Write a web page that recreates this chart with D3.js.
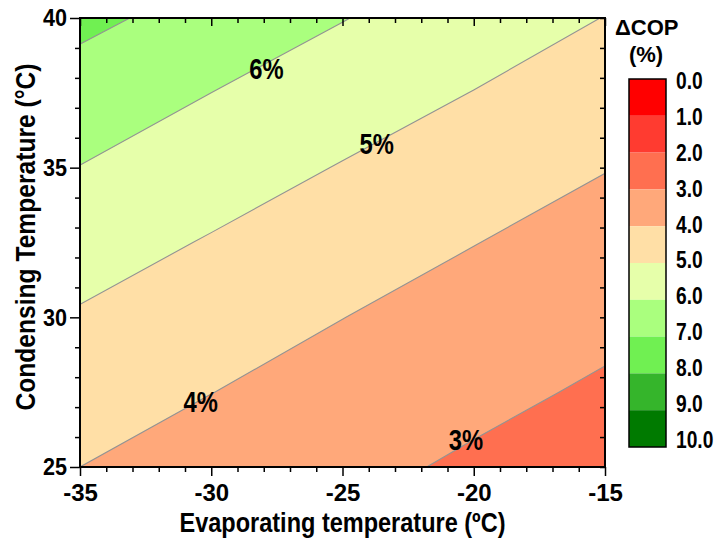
<!DOCTYPE html>
<html>
<head>
<meta charset="utf-8">
<script src="https://cdn.jsdelivr.net/npm/d3@7"></script>
<style>
  body { margin: 0; background: #fff; }
  text { font-family: "Liberation Sans", Arial, sans-serif; font-weight: bold; fill: #000; }
</style>
</head>
<body>
<script>
// evaporating temperature columns and condensing temperature rows (degC)
var evapTemps = [-35, -30, -25, -20, -15];
var condTemps = [25, 27.5, 30, 32.5, 35, 37.5, 40];

// delta COP (%), one row per condensing temperature
var copRows = [
  [4.00, 3.62, 3.25, 2.86, 2.53],   // 25
  [4.45, 4.01, 3.63, 3.24, 2.87],   // 27.5
  [4.91, 4.47, 4.01, 3.63, 3.24],   // 30
  [5.43, 4.93, 4.48, 4.02, 3.63],   // 32.5
  [5.98, 5.46, 4.95, 4.50, 4.03],   // 35
  [6.59, 6.00, 5.49, 4.98, 4.51],   // 37.5
  [7.22, 6.64, 6.03, 5.51, 4.98]    // 40
];

var levels = [0, 1, 2, 3, 4, 5, 6, 7, 8, 9, 10];
var bandColors = ["#ff0000", "#ff3b30", "#ff6f50", "#ffa87a", "#ffdfa6",
                  "#e6ffaa", "#aaff7e", "#70f052", "#35b52b", "#007a00"];
var legendLabels = ["0.0", "1.0", "2.0", "3.0", "4.0", "5.0", "6.0", "7.0", "8.0", "9.0", "10.0"];

// inline contour labels: level, evap temp, cond temp
var lineLabels = [
  {level: 6, te: -27.9, tc: 38.3},
  {level: 5, te: -23.7, tc: 35.8},
  {level: 4, te: -30.4, tc: 27.2},
  {level: 3, te: -20.3, tc: 25.9}
];

var xTicks = [-35, -30, -25, -20, -15];
var yTicks = [25, 30, 35, 40];

var W = 719, H = 546;
var plot = {left: 80, right: 605, top: 18, bottom: 467};

var svg = d3.select("body").append("svg")
    .attr("width", W)
    .attr("height", H);

// squeeze text horizontally around its anchor (the original uses a narrow bold face)
function narrow(sel, f) {
  sel.each(function() {
    var t = d3.select(this), ax = +t.attr("x") || 0;
    t.attr("transform", "translate(" + ax + ",0) scale(" + f + ",1) translate(" + (-ax) + ",0)");
  });
}

var x = d3.scaleLinear().domain([-35, -15]).range([plot.left, plot.right]);
var y = d3.scaleLinear().domain([25, 40]).range([plot.bottom, plot.top]);

// contours on the grid
var nx = evapTemps.length, ny = condTemps.length;
var values = [];
copRows.forEach(function(r) { r.forEach(function(v) { values.push(v); }); });

var dTe = evapTemps[1] - evapTemps[0], dTc = condTemps[1] - condTemps[0];
var proj = d3.geoTransform({
  point: function(px, py) {
    this.stream.point(x(evapTemps[0] + (px - 0.5) * dTe), y(condTemps[0] + (py - 0.5) * dTc));
  }
});
var path = d3.geoPath(proj);

var contours = d3.contours().size([nx, ny]).thresholds(levels.slice(0, 10))(values);

svg.append("clipPath").attr("id", "clip")
  .append("rect")
    .attr("x", plot.left).attr("y", plot.top)
    .attr("width", plot.right - plot.left).attr("height", plot.bottom - plot.top);

var cg = svg.append("g").attr("clip-path", "url(#clip)");

cg.selectAll("path.band")
  .data(contours)
  .enter().append("path")
    .attr("class", "band")
    .attr("d", path)
    .attr("fill", function(d, i) { return bandColors[i]; })
    .attr("stroke", "none");

cg.selectAll("path.line")
  .data(contours.slice(1))
  .enter().append("path")
    .attr("class", "line")
    .attr("d", path)
    .attr("fill", "none")
    .attr("stroke", "#939393")
    .attr("stroke-width", 1.1);

svg.selectAll("text.clab")
  .data(lineLabels)
  .enter().append("text")
    .attr("class", "clab")
    .attr("x", function(d) { return x(d.te); })
    .attr("y", function(d) { return y(d.tc); })
    .attr("dy", "0.36em")
    .attr("text-anchor", "middle")
    .style("font-size", "29px")
    .text(function(d) { return d.level + "%"; })
    .call(narrow, 0.82);

// axes
function styleAxis(g) {
  g.select(".domain").remove();
  g.selectAll(".tick line").attr("stroke", "#000").attr("stroke-width", 1.5);
}
var fmt = function(d) { return String(d); };

var minorX = d3.range(-35, -14, 1).filter(function(v) { return xTicks.indexOf(v) < 0; });
var minorY = d3.range(25, 41, 1).filter(function(v) { return yTicks.indexOf(v) < 0; });

svg.append("g")
    .attr("transform", "translate(0," + plot.bottom + ")")
    .call(d3.axisBottom(x).tickValues(minorX).tickSize(5).tickFormat(""))
    .call(styleAxis);
svg.append("g")
    .attr("transform", "translate(0," + plot.bottom + ")")
    .call(d3.axisBottom(x).tickValues(xTicks).tickSize(9).tickPadding(8).tickFormat(fmt))
    .call(styleAxis)
    .selectAll("text").style("font-size", "24px").attr("fill", "#000");

svg.append("g")
    .attr("transform", "translate(" + plot.left + ",0)")
    .call(d3.axisLeft(y).tickValues(minorY).tickSize(5).tickFormat(""))
    .call(styleAxis);
svg.append("g")
    .attr("transform", "translate(" + plot.left + ",0)")
    .call(d3.axisLeft(y).tickValues(yTicks).tickSize(10).tickPadding(3).tickFormat(fmt))
    .call(styleAxis)
    .selectAll("text").style("font-size", "24px").attr("fill", "#000")
    .call(narrow, 0.9);

// inward ticks on top and right
svg.append("g")
    .attr("transform", "translate(0," + plot.top + ")")
    .call(d3.axisTop(x).tickValues(minorX).tickSize(-5).tickFormat(""))
    .call(styleAxis);
svg.append("g")
    .attr("transform", "translate(0," + plot.top + ")")
    .call(d3.axisTop(x).tickValues(xTicks).tickSize(-8).tickFormat(""))
    .call(styleAxis);
svg.append("g")
    .attr("transform", "translate(" + plot.right + ",0)")
    .call(d3.axisRight(y).tickValues(d3.range(25, 41, 1)).tickSize(-5).tickFormat(""))
    .call(styleAxis);

svg.append("rect")
    .attr("x", plot.left).attr("y", plot.top)
    .attr("width", plot.right - plot.left).attr("height", plot.bottom - plot.top)
    .attr("fill", "none").attr("stroke", "#000").attr("stroke-width", 2);

// axis titles
svg.append("text")
    .attr("x", (plot.left + plot.right) / 2)
    .attr("y", 532)
    .attr("text-anchor", "middle")
    .attr("textLength", 326).attr("lengthAdjust", "spacingAndGlyphs")
    .style("font-size", "28px")
    .text("Evaporating temperature (ºC)");

svg.append("text")
    .attr("transform", "translate(35," + 237 + ") rotate(-90)")
    .attr("text-anchor", "middle")
    .attr("textLength", 347).attr("lengthAdjust", "spacingAndGlyphs")
    .style("font-size", "28px")
    .text("Condensing Temperature (°C)");

// legend
var leg = {x: 629, w: 37, top: 79, bottom: 447};
var ly = d3.scaleLinear().domain([0, 10]).range([leg.top, leg.bottom]);
var lyText = d3.scaleLinear().domain([0, 10]).range([80.5, 439]);

svg.append("g").selectAll("rect")
  .data(bandColors)
  .enter().append("rect")
    .attr("x", leg.x)
    .attr("y", function(d, i) { return ly(i); })
    .attr("width", leg.w)
    .attr("height", function(d, i) { return ly(i + 1) - ly(i); })
    .attr("fill", function(d) { return d; });

svg.append("rect")
    .attr("x", leg.x).attr("y", leg.top)
    .attr("width", leg.w).attr("height", leg.bottom - leg.top)
    .attr("fill", "none").attr("stroke", "#000").attr("stroke-width", 1.5);

svg.append("g").selectAll("text")
  .data(legendLabels)
  .enter().append("text")
    .attr("x", 676)
    .attr("y", function(d, i) { return lyText(i); })
    .attr("dy", "0.36em")
    .style("font-size", "24px")
    .text(function(d) { return d; })
    .call(narrow, 0.8);

svg.append("text")
    .attr("x", 615).attr("y", 35)
    .style("font-size", "22px")
    .text("ΔCOP");
svg.append("text")
    .attr("x", 646).attr("y", 62)
    .attr("text-anchor", "middle")
    .style("font-size", "22px")
    .text("(%)");
</script>
</body>
</html>
